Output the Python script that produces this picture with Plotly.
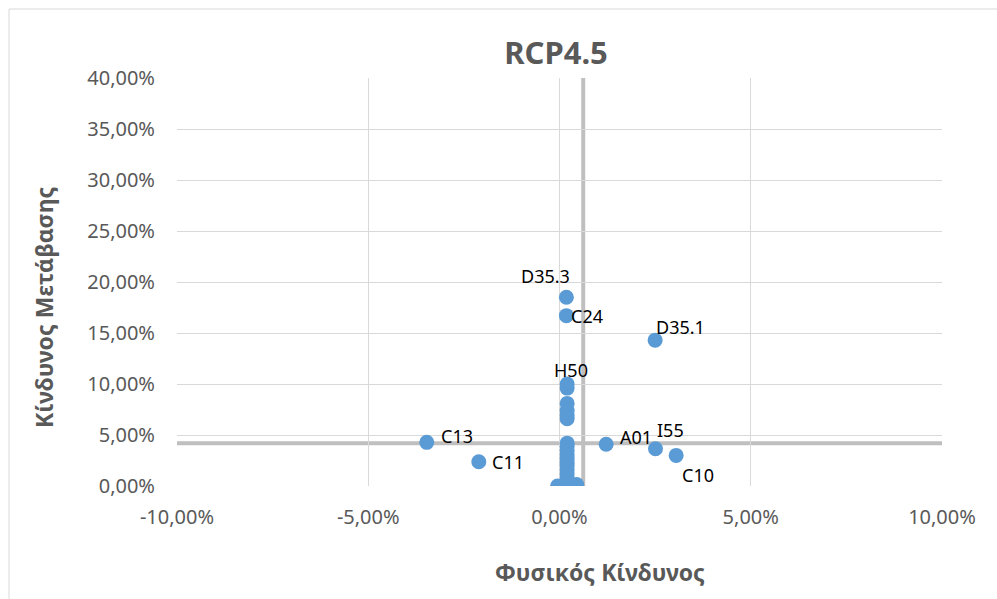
import plotly.graph_objects as go

# Data (percent values)
labels = ["D35.3", "C24", "D35.1", "H50", "A01", "I55", "C10", "C13", "C11"]
label_x = [0.18, 0.18, 2.50, 0.20, 1.22, 2.51, 3.05, -3.47, -2.11]
label_y = [18.5, 16.7, 14.3, 10.0, 4.1, 3.65, 3.0, 4.28, 2.38]
# label offsets in pixels (dx right, dy up)
label_dx = [-21, 21, 25, 4, 30, 15, 22, 30, 29]
label_dy = [21, 0, 13, 14, 7, 19, -20, 6, 0]

other_x = [0.2, 0.2, 0.2, 0.2, 0.2, 0.2, 0.2, 0.2, 0.2, 0.2, 0.2, 0.2, 0.2, 0.2, 0.2,
           0.2, 0.2, -0.05, 0.15, 0.2, 0.45, 0.3]
other_y = [9.6, 8.1, 7.4, 6.9, 6.6, 4.2, 3.9, 3.5, 3.1, 2.7, 2.3, 2.0, 1.6, 1.2, 0.8,
           0.5, 0.3, 0.0, 0.0, 0.05, 0.15, 0.1]

mean_x = 0.62
mean_y = 4.2

x_ticks = [-10, -5, 0, 5, 10]
x_ticktext = ["-10,00%", "-5,00%", "0,00%", "5,00%", "10,00%"]
y_ticks = [0, 5, 10, 15, 20, 25, 30, 35, 40]
y_ticktext = ["0,00%", "5,00%", "10,00%", "15,00%", "20,00%", "25,00%", "30,00%",
              "35,00%", "40,00%"]

FONT = "Noto Sans"
GREY = "#595959"
BLUE = "#5B9BD5"

fig = go.Figure()

fig.add_trace(go.Scatter(
    x=[v / 100 for v in other_x], y=[v / 100 for v in other_y],
    mode="markers", marker=dict(color=BLUE, size=15), showlegend=False,
    hoverinfo="skip"))

fig.add_trace(go.Scatter(
    x=[v / 100 for v in label_x], y=[v / 100 for v in label_y],
    mode="markers", text=labels,
    marker=dict(color=BLUE, size=15), showlegend=False))

for t, xv, yv, dx, dy in zip(labels, label_x, label_y, label_dx, label_dy):
    fig.add_annotation(x=xv / 100, y=yv / 100, xref="x", yref="y", text=t,
                       showarrow=False, xshift=dx, yshift=dy,
                       xanchor="center", yanchor="middle",
                       font=dict(family=FONT, size=18, color="#000000"))

fig.add_shape(type="line", xref="x", yref="paper", x0=mean_x / 100, x1=mean_x / 100,
              y0=0, y1=1, line=dict(color="#BFBFBF", width=4), layer="below")
fig.add_shape(type="line", xref="paper", yref="y", x0=0, x1=1,
              y0=mean_y / 100, y1=mean_y / 100, line=dict(color="#BFBFBF", width=4),
              layer="below")

# outer chart border (left/top visible)
L, R, T, B = 177, 942, 78, 486
W, H = R - L, B - T
def px(xp):
    return (xp - L) / W
def py(yp):
    return (B - yp) / H
fig.add_shape(type="rect", xref="paper", yref="paper",
              x0=px(9), x1=px(1010), y0=py(612), y1=py(9),
              line=dict(color="#D9D9D9", width=1), layer="below")

fig.update_layout(
    width=997, height=599,
    margin=dict(l=L, r=997 - R, t=T, b=599 - B),
    paper_bgcolor="white", plot_bgcolor="white",
    separators=",.",
    font=dict(family=FONT, color=GREY),
    title=dict(text="<b>RCP4.5</b>", x=(556 - L) / W, xref="paper", xanchor="center",
               y=1 - 53 / 599, yanchor="middle",
               font=dict(family=FONT, size=31, color=GREY)),
    xaxis=dict(range=[-0.1, 0.1], tickvals=[v / 100 for v in x_ticks],
               ticktext=x_ticktext, showgrid=True, gridcolor="#D9D9D9", gridwidth=1,
               zeroline=False, showline=False, ticks="",
               tickfont=dict(family=FONT, size=20, color=GREY), ticklabelstandoff=17),
    yaxis=dict(range=[0, 0.4], tickvals=[v / 100 for v in y_ticks],
               ticktext=y_ticktext, showgrid=True, gridcolor="#D9D9D9", gridwidth=1,
               zeroline=False, showline=False, ticks="",
               tickfont=dict(family=FONT, size=20, color=GREY), ticklabelstandoff=21),
)

fig.add_annotation(text="<b>Φυσικός Κίνδυνος</b>", xref="paper", yref="paper",
                   x=px(600), y=py(572), showarrow=False,
                   xanchor="center", yanchor="middle",
                   font=dict(family=FONT, size=23, color=GREY))
fig.add_annotation(text="<b>Κίνδυνος Μετάβασης</b>", xref="paper", yref="paper",
                   x=px(44), y=py(308), showarrow=False, textangle=-90,
                   xanchor="center", yanchor="middle",
                   font=dict(family=FONT, size=23, color=GREY))

fig.write_html("out.html", config={"displayModeBar": False})

with open("out.html", "r", encoding="utf-8") as f:
    html = f.read()
html = html.replace("<body>", '<body style="margin:0;padding:0;">', 1)
with open("out.html", "w", encoding="utf-8") as f:
    f.write(html)
